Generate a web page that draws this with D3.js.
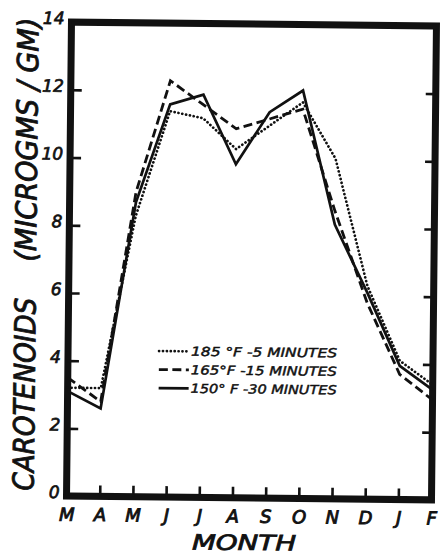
<!DOCTYPE html>
<html>
<head>
<meta charset="utf-8">
<script src="https://cdn.jsdelivr.net/npm/d3@7/dist/d3.min.js"></script>
<style>
  body { margin: 0; background: #fff; }
  text { font-family: "DejaVu Sans", sans-serif; font-style: italic; fill: #111; }
</style>
</head>
<body>
<svg id="chart" width="440" height="556"></svg>
<script>
// months, March through February
const months = ['M', 'A', 'M', 'J', 'J', 'A', 'S', 'O', 'N', 'D', 'J', 'F'];
const yTicks = [0, 2, 4, 6, 8, 10, 12, 14];

// carotenoids, micrograms per gram
const blanch185 = [3.2, 3.2, 8.3, 11.4, 11.2, 10.3, 11.0, 11.7, 10.05, 6.3, 4.1, 3.4];
const blanch165 = [3.5, 2.8, 9.0, 12.3, 11.6, 10.9, 11.2, 11.5, 8.5, 5.8, 3.7, 2.95];
const blanch150 = [3.1, 2.6, 8.7, 11.6, 11.9, 9.85, 11.4, 12.05, 8.1, 6.1, 3.95, 3.25];

const seriesNames = ['185 °F -5 MINUTES', '165°F -15 MINUTES', '150° F -30 MINUTES'];

const margin = { top: 24, right: 6, bottom: 58, left: 69 };
const width = 440, height = 556;
const svg = d3.select('#chart');
const g = svg.append('g').attr('transform', 'rotate(0.6, 252, 260)');

const x = d3.scaleLinear().domain([0, months.length - 1]).range([margin.left, width - margin.right]);
const y = d3.scaleLinear().domain([0, 14]).range([height - margin.bottom, margin.top]);

// frame
g.append('rect')
  .attr('x', x(0)).attr('y', y(14))
  .attr('width', x(11) - x(0)).attr('height', y(0) - y(14))
  .attr('fill', 'none').attr('stroke', '#111').attr('stroke-width', 7);

const xAxis = g.append('g').attr('transform', `translate(0,${y(0)})`)
  .call(d3.axisBottom(x).tickValues(d3.range(months.length)).tickFormat(i => months[i])
    .tickSizeInner(-11).tickSizeOuter(0).tickPadding(12));
xAxis.select('.domain').remove();
xAxis.selectAll('line').attr('stroke', '#111').attr('stroke-width', 2.6);
xAxis.selectAll('text').attr('font-size', 18).attr('font-family', '"DejaVu Sans"')
  .attr('font-style', 'italic').attr('fill', '#111').attr('stroke', '#111').attr('stroke-width', 0.9);

const yAxis = g.append('g').attr('transform', `translate(${x(0)},0)`)
  .call(d3.axisLeft(y).tickValues(yTicks).tickSizeInner(-11).tickSizeOuter(0).tickPadding(7));
yAxis.select('.domain').remove();
yAxis.selectAll('line').attr('stroke', '#111').attr('stroke-width', 2.6);
yAxis.selectAll('text').attr('font-size', 17).attr('font-family', '"DejaVu Sans"')
  .attr('font-style', 'italic').attr('fill', '#111').attr('dy', '0.1em')
  .attr('stroke', '#111').attr('stroke-width', 0.7);

const yRight = g.append('g').attr('transform', `translate(${x(11)},0)`)
  .call(d3.axisRight(y).tickValues(yTicks.slice(1, -1)).tickSizeInner(-10).tickSizeOuter(0).tickFormat(''));
yRight.select('.domain').remove();
yRight.selectAll('line').attr('stroke', '#111').attr('stroke-width', 2.6);

// lines
const line = d3.line().x((d, i) => x(i)).y(d => y(d));
const styles = [
  { data: blanch185, dash: '0.1,3.8', width: 2.7, cap: 'round' },
  { data: blanch165, dash: '9,4.5', width: 2.8, cap: 'butt' },
  { data: blanch150, dash: null, width: 2.7, cap: 'butt' }
];
styles.forEach(s => {
  g.append('path').datum(s.data)
    .attr('d', line)
    .attr('fill', 'none').attr('stroke', '#111')
    .attr('stroke-width', s.width)
    .attr('stroke-linecap', s.cap)
    .attr('stroke-linejoin', 'miter')
    .attr('stroke-dasharray', s.dash);
});

// legend
const legend = g.append('g').attr('transform', 'translate(160,352)');
styles.forEach((s, i) => {
  const row = legend.append('g').attr('transform', `translate(0,${i * 18.5})`);
  row.append('line').attr('x1', 0).attr('x2', 30).attr('y1', 0).attr('y2', 0)
    .attr('stroke', '#111').attr('stroke-width', s.width)
    .attr('stroke-linecap', s.cap).attr('stroke-dasharray', s.dash);
  row.append('text').attr('x', 32).attr('y', 4.5)
    .attr('font-size', 12.5).attr('stroke', '#111').attr('stroke-width', 0.45)
    .attr('textLength', 146).attr('lengthAdjust', 'spacingAndGlyphs')
    .text(seriesNames[i]);
});

// axis titles
g.append('text').attr('x', 247).attr('y', 550)
  .attr('text-anchor', 'middle').attr('font-size', 21)
  .attr('stroke', '#111').attr('stroke-width', 0.8)
  .attr('textLength', 104).attr('lengthAdjust', 'spacingAndGlyphs')
  .text('MONTH');

g.append('text').attr('transform', 'translate(36,493) rotate(-90)')
  .attr('font-size', 29).attr('stroke', '#111').attr('stroke-width', 0.9)
  .attr('textLength', 193).attr('lengthAdjust', 'spacingAndGlyphs')
  .text('CAROTENOIDS');

g.append('text').attr('transform', 'translate(36,264) rotate(-90)')
  .attr('font-size', 29).attr('stroke', '#111').attr('stroke-width', 0.9)
  .attr('textLength', 244).attr('lengthAdjust', 'spacingAndGlyphs')
  .text('(MICROGMS / GM)');
</script>
</body>
</html>
